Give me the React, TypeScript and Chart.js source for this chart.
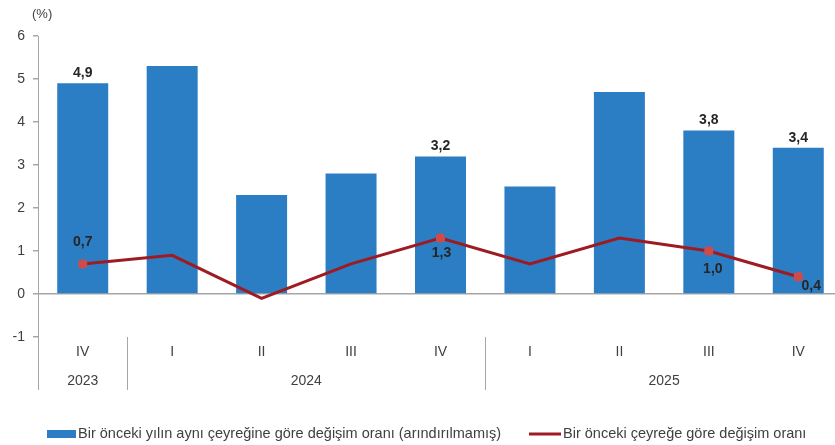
import React, { useEffect, useRef } from "react";
import { Chart, registerables } from "chart.js";

Chart.register(...registerables);

// ---- data ----
const quarters = ["IV", "I", "II", "III", "IV", "I", "II", "III", "IV"];
const years = ["2023", "2024", "2025"];
const yearSpans = [1, 4, 4];
const annualChange = [4.9, 5.3, 2.3, 2.8, 3.2, 2.5, 4.7, 3.8, 3.4];
const quarterlyChange = [0.7, 0.9, -0.1, 0.7, 1.3, 0.7, 1.3, 1.0, 0.4];
const barLabelShown = [true, false, false, false, true, false, false, true, true];
const lineLabelShown = [true, false, false, false, true, false, false, true, true];
const yTicks = { min: -1, max: 6, step: 1 };
const legendLabels = [
  "Bir önceki yılın aynı çeyreğine göre değişim oranı (arındırılmamış)",
  "Bir önceki çeyreğe göre değişim oranı",
];
const unitLabel = "(%)";

// ---- styles ----
const NARROW = "'Liberation Sans Narrow', 'Arial Narrow', 'Liberation Sans', Arial, sans-serif";
const BAR_COLOR = "#2b7dc4";
const LINE_COLOR = "#9e1b22";
const MARKER_COLOR = "#cf4b4b";
const TEXT_COLOR = "#404040";
const LABEL_COLOR = "#262626";
const AXIS_COLOR = "#a6a6a6";
// line label offsets (dx, dy) relative to point
const lineLabelOffsets: Record<number, [number, number]> = {
  0: [0, -22],
  4: [1, 15],
  7: [4, 18],
  8: [13, 9],
};

const fmt = (v: number) => v.toFixed(1).replace(".", ",");

const overlayPlugin = {
  id: "overlay",
  afterDatasetsDraw(chart: any) {
    const ctx = chart.ctx as CanvasRenderingContext2D;
    const xs = chart.scales.x;
    const area = chart.chartArea;
    ctx.save();

    // bar value labels
    ctx.font = `bold 14px ${NARROW}`;
    ctx.fillStyle = LABEL_COLOR;
    ctx.textAlign = "center";
    ctx.textBaseline = "middle";
    const barMeta = chart.getDatasetMeta(0);
    barMeta.data.forEach((el: any, i: number) => {
      if (!barLabelShown[i]) return;
      ctx.fillText(fmt(annualChange[i]), el.x, el.y - 10);
    });

    // line value labels
    const lineMeta = chart.getDatasetMeta(1);
    lineMeta.data.forEach((el: any, i: number) => {
      if (!lineLabelShown[i]) return;
      const off = lineLabelOffsets[i] || [0, -14];
      ctx.fillText(fmt(quarterlyChange[i]), el.x + off[0], el.y + off[1]);
    });

    // category labels
    ctx.font = `14px ${NARROW}`;
    ctx.fillStyle = TEXT_COLOR;
    quarters.forEach((q, i) => {
      ctx.fillText(q, xs.getPixelForValue(i), 352);
    });

    // year labels and separators
    const catW = (area.right - area.left) / quarters.length;
    let start = 0;
    ctx.strokeStyle = AXIS_COLOR;
    ctx.lineWidth = 1;
    ctx.beginPath();
    ctx.moveTo(Math.round(area.left) + 0.5, area.bottom);
    ctx.lineTo(Math.round(area.left) + 0.5, 390);
    ctx.stroke();
    years.forEach((yr, k) => {
      const span = yearSpans[k];
      const x0 = xs.getPixelForValue(start) - catW / 2;
      const x1 = xs.getPixelForValue(start + span - 1) + catW / 2;
      ctx.fillText(yr, (x0 + x1) / 2, 381);
      if (k > 0) {
        ctx.beginPath();
        ctx.moveTo(Math.round(x0) + 0.5, area.bottom);
        ctx.lineTo(Math.round(x0) + 0.5, 390);
        ctx.stroke();
      }
      start += span;
    });

    // unit label
    ctx.font = `13px ${NARROW}`;
    ctx.textAlign = "left";
    ctx.fillText(unitLabel, 32, 14);

    // legend
    const ly = 434;
    ctx.fillStyle = BAR_COLOR;
    ctx.fillRect(47, ly - 4, 29, 8);
    ctx.fillStyle = TEXT_COLOR;
    ctx.font = `14.5px ${NARROW}`;
    ctx.fillText(legendLabels[0], 78, ly);
    ctx.strokeStyle = LINE_COLOR;
    ctx.lineWidth = 3;
    ctx.beginPath();
    ctx.moveTo(529, ly);
    ctx.lineTo(561, ly);
    ctx.stroke();
    ctx.fillText(legendLabels[1], 563, ly);

    ctx.restore();
  },
};

export default function App() {
  const ref = useRef<HTMLCanvasElement | null>(null);

  useEffect(() => {
    if (!ref.current) return;
    const chart = new Chart(ref.current, {
      type: "bar",
      data: {
        labels: quarters,
        datasets: [
          {
            type: "bar",
            label: legendLabels[0],
            data: annualChange,
            backgroundColor: BAR_COLOR,
            barPercentage: 0.57,
            categoryPercentage: 1,
            order: 2,
          },
          {
            type: "line",
            label: legendLabels[1],
            data: quarterlyChange,
            borderColor: LINE_COLOR,
            borderWidth: 3,
            backgroundColor: MARKER_COLOR,
            pointBackgroundColor: MARKER_COLOR,
            pointBorderColor: MARKER_COLOR,
            pointStyle: "rectRounded",
            pointRadius: lineLabelShown.map((s) => (s ? 3.5 : 0)),
            tension: 0,
            order: 1,
          } as any,
        ],
      },
      options: {
        responsive: false,
        animation: false,
        layout: { padding: { left: 0, right: 5, top: 36, bottom: 108 } },
        plugins: {
          legend: { display: false },
          tooltip: { enabled: false },
        },
        scales: {
          x: {
            display: false,
            offset: true,
          },
          y: {
            min: yTicks.min,
            max: yTicks.max,
            afterFit: (scale: any) => {
              scale.width = 38;
            },
            ticks: {
              stepSize: yTicks.step,
              color: TEXT_COLOR,
              padding: 8,
              font: { size: 14, family: "'Liberation Sans', Arial, sans-serif" },
            },
            grid: {
              color: (c: any) => (c.tick && c.tick.value === 0 ? AXIS_COLOR : "rgba(0,0,0,0)"),
              tickColor: AXIS_COLOR,
              tickLength: 5,
              lineWidth: 1.5,
            },
            border: { display: true, color: AXIS_COLOR, width: 1 },
          },
        },
      },
      plugins: [overlayPlugin],
    });
    return () => chart.destroy();
  }, []);

  return (
    <div style={{ position: "fixed", left: 0, top: 0, width: 835, height: 445, overflow: "hidden", background: "#fff" }}>
      <canvas ref={ref} width={850} height={445} style={{ display: "block" }} />
    </div>
  );
}
